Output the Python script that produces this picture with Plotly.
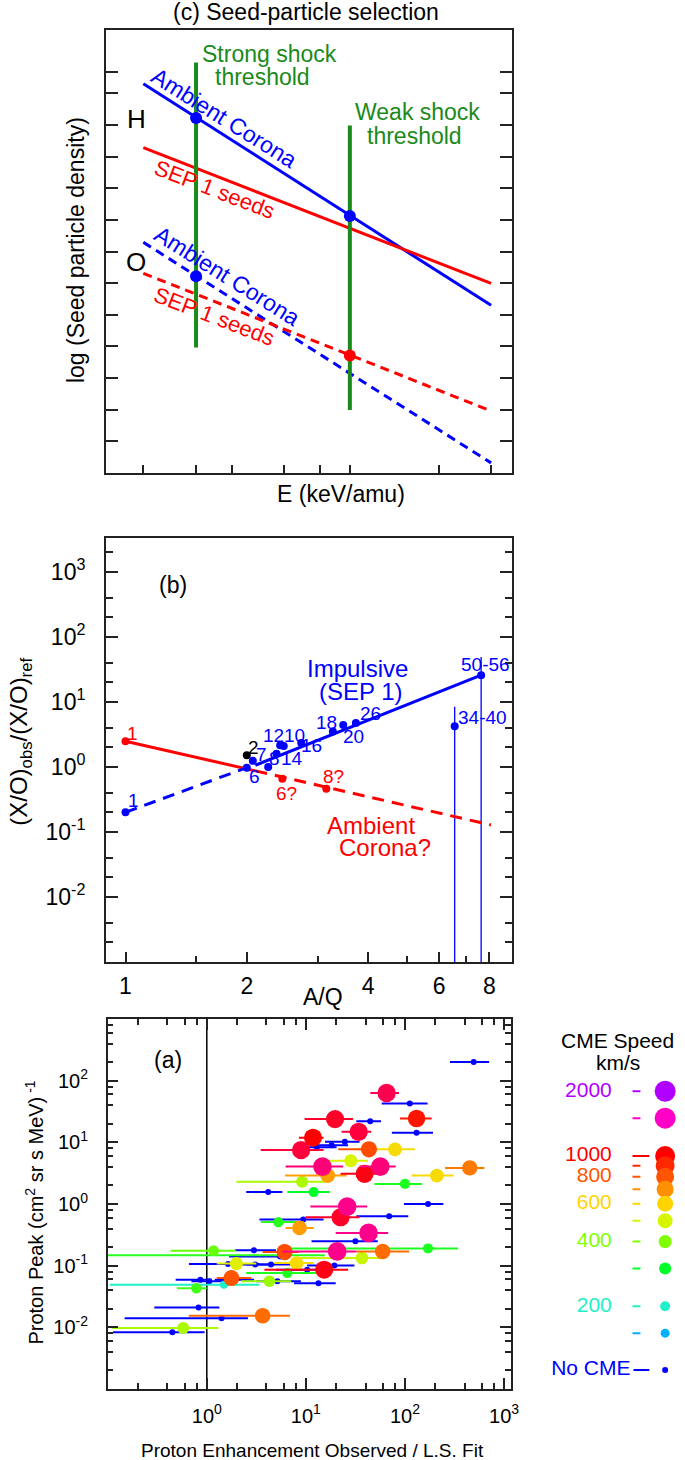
import plotly.graph_objects as go

W, H = 685, 1460
FONT = "Liberation Sans, Arial, Helvetica, sans-serif"
BLUE = "#0000ff"
RED = "#ff0000"
GREEN = "#1a8a1a"
BLACK = "#000000"
AXC = "#222222"

# ---------------- Panel (c) data: schematic seed-particle spectra ----------------
c_E_ends = [1.0, 48.3]
c_H_ambient = [12.30, 5.30]
c_H_sep1 = [10.28, 5.99]
c_O_ambient = [7.29, 0.32]
c_O_sep1 = [6.31, 1.96]
c_E_strong = 1.8
c_E_weak = 10.0
c_strong_span = [3.97, 12.97]
c_weak_span = [1.99, 10.98]
c_blue_dot_E = [1.8, 10.0, 1.8]
c_blue_dot_val = [11.22, 8.12, 6.22]
c_red_dot_E = [10.0]
c_red_dot_val = [3.71]
c_xticks = [1, 1.8, 2.7, 4.8, 7.2, 10, 27, 48]
c_yticks = [1, 2, 3, 4, 5, 6, 7, 8, 9, 10, 11, 12, 12.68]

# ---------------- Panel (b) data: enhancement vs A/Q ----------------
b_red_solid_x = [1.0, 2.1]
b_red_solid_y = [2.48, 0.87]
b_red_dash_x = [2.1, 8.07]
b_red_dash_y = [0.87, 0.128]
b_blue_dash_x = [1.0, 2.02]
b_blue_dash_y = [0.20, 1.0]
b_blue_solid_x = [2.1, 7.63]
b_blue_solid_y = [1.06, 25.7]
b_blue_labels = ["1", "6", "7", "8", "14", "12", "10", "16", "18", "20", "26", "34-40", "50-56"]
b_blue_aq = [1.0, 2.0, 2.07, 2.26, 2.37, 2.42, 2.47, 2.73, 3.27, 3.47, 3.73, 6.56, 7.63]
b_blue_ratio = [0.20, 0.97, 1.24, 1.0, 1.6, 2.16, 2.1, 2.34, 3.5, 4.4, 4.75, 4.23, 25.7]
b_red_labels = ["1", "6?", "8?"]
b_red_aq = [1.0, 2.45, 3.15]
b_red_ratio = [2.48, 0.66, 0.46]
b_black_labels = ["2"]
b_black_aq = [2.0]
b_black_ratio = [1.51]
b_err_aq = [6.56, 7.63]
b_err_lo = [1e-3, 1e-3]
b_err_hi = [8.4, 49.0]

# ---------------- Panel (a) data: proton peak vs enhancement ----------------
# enhancement (x), proton peak (y), x error low / high, CME speed (0 = no CME)
a_enh = [494, 65.3, 112, 19.7, 131, 44.6, 34.1, 131, 11.8, 24.7, 18.2, 12.9, 8.95, 43.3,
         79.4, 28.4, 14.7, 56.4, 451, 16.6, 39.1, 210, 9.16, 100, 4.17, 12.0, 171, 26.1,
         22.4, 69.3, 9.4, 5.28, 8.63, 42.9, 31.6, 20.7, 59.6, 171, 6.2, 6.1, 2.99, 5.5,
         36.8, 8.04, 3.08, 4.44, 19.4, 15.3, 10.3, 6.5, 4.28, 5.16, 13.4, 1.17, 1.64,
         1.99, 1.77, 0.86, 1.06, 1.95, 1.49, 0.785, 0.826, 1.41, 3.66, 0.577, 0.449]
a_peak = [200, 63.1, 42.7, 23.8, 24.4, 22.0, 14.8, 14.3, 11.9, 10.2, 9.0, 8.3, 7.5, 7.7,
          7.7, 5.05, 4.04, 4.04, 3.85, 2.89, 3.08, 2.89, 2.29, 2.12, 1.56, 1.56, 1.0, 0.91,
          0.61, 0.63, 0.56, 0.51, 0.41, 0.34, 0.25, 0.17, 0.17, 0.19, 0.148, 0.166, 0.177,
          0.141, 0.133, 0.11, 0.104, 0.104, 0.101, 0.086, 0.086, 0.076, 0.056, 0.056, 0.052,
          0.175, 0.106, 0.108, 0.063, 0.059, 0.056, 0.059, 0.049, 0.043, 0.021, 0.0141,
          0.0154, 0.00975, 0.0083]
a_xlo = [285, 44.7, 58.2, 9.7, 89, 32.3, 22.9, 73.8, 8.5, 15.6, 11.5, 8.0, 3.5, 21.2,
         32.3, 16.9, 6.25, 34.8, 254, 6.17, 22.4, 117, 1.99, 49.2, 2.5, 6.5, 97.7, 11.1,
         9.9, 32.3, 3.4, 3.52, 6.25, 20.0, 11.4, 5.8, 32.3, 5.6, 0.05, 3.66, 1.92, 1.68,
         7.9, 4.79, 1.9, 2.5, 10.3, 3.81, 5.0, 2.5, 2.24, 3.16, 7.6, 0.43, 0.66, 1.26,
         1.26, 0.485, 0.7, 1.2, 0.105, 0.5, 0.295, 0.148, 0.658, 0.109, 0.113]
a_xhi = [708, 87.1, 169, 30.0, 186, 57.3, 45.7, 192, 15.1, 34.8, 26.7, 20.4, 15.1, 51.0,
         126, 42.3, 23.8, 80.7, 635, 25.7, 55.0, 309, 16.9, 149, 5.8, 17.5, 244, 41.6,
         34.8, 108, 15.1, 9.5, 12.0, 67.8, 53.1, 32.3, 110, 344, 15.5, 8.5, 4.98, 5.8,
         56.2, 12.0, 4.8, 7.0, 30.9, 26.7, 17.0, 12.6, 7.1, 8.9, 20.0, 1.98, 3.39, 3.16,
         2.82, 1.12, 1.6, 3.0, 3.4, 1.0, 1.34, 2.6, 6.9, 1.31, 0.95]
a_speed = [0, 1200, 0, 1100, 950, 0, 1150, 0, 1000, 0, 0, 0, 1150, 820,
           580, 500, 1300, 1300, 740, 680, 1050, 580, 450, 320, 0, 300, 0, 1350,
           1100, 0, 0, 330, 680, 1350, 0, 1350, 760, 320, 330, 820, 0, 0,
           480, 580, 0, 0, 0, 1050, 0, 320, 430, 0, 0, 380, 0,
           520, 800, 0, 0, 0, 200, 350, 0, 0, 760, 450, 0]

# ---------------- CME speed legend ----------------
legend_speeds = [2000, 1500, 1000, 900, 800, 700, 600, 500, 400, 300, 200, 150]
legend_labels = ["2000", "", "1000", "", "800", "", "600", "", "400", "", "200", ""]
legend_nocme_row = 101

# speed -> colour / size scale (style)
speed_anchor = [150, 200, 300, 400, 500, 600, 700, 800, 900, 1000, 1500, 2000]
color_anchor = [(0, 176, 255), (32, 240, 200), (0, 255, 40), (128, 255, 0), (216, 245, 0),
                (255, 212, 0), (255, 145, 0), (255, 85, 0), (255, 40, 0), (255, 0, 0),
                (255, 0, 200), (176, 0, 255)]
size_anchor = [9, 10, 12, 13, 15, 16, 17, 18, 19, 20, 21, 21]


def interp(s, vals):
    if s <= speed_anchor[0]:
        return vals[0]
    for i in range(len(speed_anchor) - 1):
        a, b = speed_anchor[i], speed_anchor[i + 1]
        if a <= s <= b:
            t = (s - a) / (b - a)
            va, vb = vals[i], vals[i + 1]
            if isinstance(va, tuple):
                return tuple(va[k] + t * (vb[k] - va[k]) for k in range(3))
            return va + t * (vb - va)
    return vals[-1]


def speed_color(s):
    if s <= 0:
        return BLUE
    c = interp(s, color_anchor)
    return "rgb(%d,%d,%d)" % tuple(int(round(v)) for v in c)


def speed_size(s, legend=False):
    if s <= 0:
        return 6
    v = interp(s, size_anchor)
    return v if legend else v - 2


fig = go.Figure()

# ---------------- Panel (c) traces ----------------
for yv, col, dash in [(c_H_ambient, BLUE, "solid"), (c_H_sep1, RED, "solid"),
                      (c_O_ambient, BLUE, "9px,6px"), (c_O_sep1, RED, "9px,6px")]:
    fig.add_trace(go.Scatter(x=c_E_ends, y=yv, mode="lines", xaxis="x", yaxis="y",
                             line=dict(color=col, width=3, dash=dash), showlegend=False))
fig.add_trace(go.Scatter(x=[c_E_strong, c_E_strong], y=c_strong_span, mode="lines",
                         xaxis="x", yaxis="y", line=dict(color=GREEN, width=4), showlegend=False))
fig.add_trace(go.Scatter(x=[c_E_weak, c_E_weak], y=c_weak_span, mode="lines",
                         xaxis="x", yaxis="y", line=dict(color=GREEN, width=4), showlegend=False))
fig.add_trace(go.Scatter(x=c_blue_dot_E, y=c_blue_dot_val, mode="markers", xaxis="x", yaxis="y",
                         marker=dict(color=BLUE, size=12, opacity=1), showlegend=False))
fig.add_trace(go.Scatter(x=c_red_dot_E, y=c_red_dot_val, mode="markers", xaxis="x", yaxis="y",
                         marker=dict(color=RED, size=12, opacity=1), showlegend=False))

# ---------------- Panel (b) traces ----------------
fig.add_trace(go.Scatter(x=b_err_aq[:1] * 2, y=[b_err_lo[0], b_err_hi[0]], mode="lines",
                         xaxis="x2", yaxis="y2", line=dict(color=BLUE, width=1.3), showlegend=False))
fig.add_trace(go.Scatter(x=b_err_aq[1:] * 2, y=[b_err_lo[1], b_err_hi[1]], mode="lines",
                         xaxis="x2", yaxis="y2", line=dict(color=BLUE, width=1.3), showlegend=False))
for xv, yv, col, dash in [(b_red_solid_x, b_red_solid_y, RED, "solid"),
                          (b_red_dash_x, b_red_dash_y, RED, "12px,8px"),
                          (b_blue_dash_x, b_blue_dash_y, BLUE, "12px,8px"),
                          (b_blue_solid_x, b_blue_solid_y, BLUE, "solid")]:
    fig.add_trace(go.Scatter(x=xv, y=yv, mode="lines", xaxis="x2", yaxis="y2",
                             line=dict(color=col, width=3, dash=dash), showlegend=False))
fig.add_trace(go.Scatter(x=b_red_aq, y=b_red_ratio, mode="markers", xaxis="x2", yaxis="y2",
                         marker=dict(color=RED, size=8, opacity=1), showlegend=False))
fig.add_trace(go.Scatter(x=b_blue_aq, y=b_blue_ratio, mode="markers", xaxis="x2", yaxis="y2",
                         marker=dict(color=BLUE, size=8, opacity=1), showlegend=False))
fig.add_trace(go.Scatter(x=b_black_aq, y=b_black_ratio, mode="markers", xaxis="x2", yaxis="y2",
                         marker=dict(color=BLACK, size=8, opacity=1), showlegend=False))

# ---------------- Panel (a) traces ----------------
fig.add_trace(go.Scatter(x=[1, 1], y=[1e-3, 1e3], mode="lines", xaxis="x3", yaxis="y3",
                         line=dict(color=BLACK, width=1.5), showlegend=False))
groups = {}
for i, s in enumerate(a_speed):
    groups.setdefault(s, []).append(i)
order = ([0] if 0 in groups else []) + sorted(s for s in groups if s != 0)
for s in order:
    idx = groups[s]
    xs = [a_enh[i] for i in idx]
    ys = [a_peak[i] for i in idx]
    plus = [a_xhi[i] - a_enh[i] for i in idx]
    minus = [a_enh[i] - a_xlo[i] for i in idx]
    col = speed_color(s)
    fig.add_trace(go.Scatter(x=xs, y=ys, mode="markers", xaxis="x3", yaxis="y3",
                             marker=dict(color=col, size=speed_size(s), opacity=1, line=dict(width=0)),
                             error_x=dict(type="data", array=plus, arrayminus=minus, symmetric=False,
                                          color=col, thickness=2, width=0),
                             showlegend=False))

# ---------------- Legend (own hidden axes, log speed scale) ----------------
for s in legend_speeds:
    x1 = 657 if s == 1000 else 648
    fig.add_trace(go.Scatter(x=[640, x1], y=[s, s], mode="lines", xaxis="x4", yaxis="y4",
                             line=dict(color=speed_color(s), width=2), showlegend=False))
fig.add_trace(go.Scatter(x=[641, 657], y=[legend_nocme_row] * 2, mode="lines", xaxis="x4", yaxis="y4",
                         line=dict(color=BLUE, width=2), showlegend=False))
fig.add_trace(go.Scatter(x=[673] * (len(legend_speeds) + 1), y=legend_speeds + [legend_nocme_row],
                         mode="markers", xaxis="x4", yaxis="y4",
                         marker=dict(color=[speed_color(s) for s in legend_speeds] + [BLUE],
                                     size=[speed_size(s, True) for s in legend_speeds] + [6],
                                     opacity=1, line=dict(width=0)),
                         showlegend=False))
lab_s = [s for s, l in zip(legend_speeds, legend_labels) if l]
lab_t = [l for l in legend_labels if l]
fig.add_trace(go.Scatter(x=[619] * len(lab_s), y=lab_s, mode="text", text=lab_t, xaxis="x4", yaxis="y4",
                         textposition="middle left",
                         textfont=dict(family=FONT, size=21, color=[speed_color(s) for s in lab_s]),
                         showlegend=False))
fig.add_trace(go.Scatter(x=[638], y=[legend_nocme_row], mode="text", text=["No CME"], xaxis="x4", yaxis="y4",
                         textposition="middle left", textfont=dict(family=FONT, size=21, color=BLUE),
                         showlegend=False))

# ---------------- Annotations (text) ----------------
annotations = []


def add_text(text, xp, yp, size, color=BLACK, angle=0, xanchor="center", yanchor="middle"):
    annotations.append(dict(text=text, x=xp / W, y=1 - yp / H, xref="paper", yref="paper",
                            showarrow=False, textangle=angle, xanchor=xanchor, yanchor=yanchor,
                            borderpad=0, font=dict(family=FONT, size=size, color=color)))


# panel (c)
add_text("(c) Seed-particle selection", 310, 12, 23)
add_text("log (Seed particle density)", 77, 250, 23, angle=-90)
add_text("E (keV/amu)", 345, 494, 23)
add_text("Strong shock", 273, 54, 23, GREEN)
add_text("threshold", 266, 77, 23, GREEN)
add_text("Weak shock", 422, 112, 23, GREEN)
add_text("threshold", 419, 136, 23, GREEN)
add_text("H", 138, 119, 26)
add_text("O", 138, 262, 26)
add_text("Ambient Corona", 227, 118, 23, BLUE, angle=32)
add_text("SEP 1 seeds", 217, 190, 22, RED, angle=21)
add_text("Ambient Corona", 230, 276, 23, BLUE, angle=32)
add_text("SEP 1 seeds", 217, 316, 22, RED, angle=21)

# panel (b)
add_text("(b)", 175, 585, 23)
add_text("A/Q", 327, 997, 23)
add_text("(X/O)<sub>obs</sub>/(X/O)<sub>ref</sub>", 20, 742, 24, angle=-90)
add_text("Impulsive", 362, 668, 24, BLUE)
add_text("(SEP 1)", 365, 691, 24, BLUE)
add_text("Ambient", 375, 825, 24, RED)
add_text("Corona?", 390, 847, 24, RED)
b_label_px = {"1": (135, 800), "6": (258, 777), "7": (265, 754), "8": (278, 758), "14": (295, 759),
              "12": (277, 735), "10": (298, 735), "16": (315, 746), "18": (330, 722), "20": (358, 736),
              "26": (375, 713), "34-40": (488, 717), "50-56": (491, 664)}
for lab in b_blue_labels:
    xp, yp = b_label_px[lab]
    add_text(lab, xp, yp, 19, BLUE)
for lab, (xp, yp) in zip(b_red_labels, [(134, 733), (290, 793), (337, 776)]):
    add_text(lab, xp, yp, 19, RED)
add_text(b_black_labels[0], 256, 747, 19, BLACK)

# panel (a)
add_text("(a)", 170, 1060, 23)
add_text("Proton Peak (cm<sup>2</sup> sr s MeV)<sup> -1</sup>", 34, 1213, 20, angle=-90)
add_text("Proton Enhancement Observed / L.S. Fit", 316, 1450, 19)
add_text("CME Speed", 625, 1040, 21)
add_text("km/s", 625, 1062, 21)


def sup(e):
    return "10<sup>%d</sup>" % e


common_axis = dict(showline=True, linecolor=AXC, linewidth=1.5, showgrid=False, zeroline=False,
                   ticks="inside", tickcolor=AXC, tickwidth=1.5,
                   tickfont=dict(family=FONT, size=23, color=BLACK))


def dec_minor(lo, hi, mults):
    out = []
    for e in range(lo, hi + 1):
        for m in mults:
            out.append(m * 10 ** e)
    return out


layout_axes = dict(
    xaxis=dict(common_axis, type="log", range=[-0.182, 1.785], domain=[107 / W, 518 / W], anchor="y",
               tickvals=c_xticks, showticklabels=False, ticklen=8, mirror=True),
    yaxis=dict(common_axis, range=[0, 14], domain=[1 - 473 / H, 1 - 30 / H], anchor="x",
               tickvals=c_yticks, showticklabels=False, ticklen=12, mirror="allticks"),
    xaxis2=dict(common_axis, type="log", range=[-0.049, 0.959], domain=[107 / W, 518 / W], anchor="y2",
                tickvals=[1, 2, 4, 6, 8], ticktext=["1", "2", "4", "6", "8"], ticklen=10, mirror=True,
                ticklabelstandoff=3,
                minor=dict(tickvals=[1.5, 3, 5, 7], ticklen=6, ticks="inside", tickcolor=AXC, tickwidth=1.5)),
    yaxis2=dict(common_axis, type="log", range=[-3, 3.52], domain=[1 - 962 / H, 1 - 538 / H], anchor="x2",
                tickvals=[10 ** e for e in range(-2, 4)], ticktext=[sup(e) for e in range(-2, 4)],
                ticklen=12, mirror="allticks", ticklabelstandoff=14,
                minor=dict(tickvals=dec_minor(-3, 3, [2, 4]), ticklen=7, ticks="inside",
                           tickcolor=AXC, tickwidth=1.5)),
    xaxis3=dict(common_axis, type="log", range=[-1, 3.07], domain=[109 / W, 517 / W], anchor="y3",
                tickvals=[1, 10, 100, 1000], ticktext=[sup(e) for e in range(0, 4)], ticklen=11,
                mirror="allticks", ticklabelstandoff=8, tickfont=dict(family=FONT, size=20, color=BLACK),
                minor=dict(tickvals=dec_minor(-1, 2, [2, 4, 6, 8]), ticklen=6, ticks="inside",
                           tickcolor=AXC, tickwidth=1.5)),
    yaxis3=dict(common_axis, type="log", range=[-3, 3], domain=[1 - 1389 / H, 1 - 1019 / H], anchor="x3",
                tickvals=[10 ** e for e in range(-2, 3)], ticktext=[sup(e) for e in range(-2, 3)],
                ticklen=11, mirror="allticks", ticklabelstandoff=14,
                tickfont=dict(family=FONT, size=20, color=BLACK),
                minor=dict(tickvals=dec_minor(-3, 2, [2, 4, 6, 8]), ticklen=6, ticks="inside",
                           tickcolor=AXC, tickwidth=1.5)),
    xaxis4=dict(range=[540, 685], domain=[540 / W, 1.0], anchor="y4", visible=False),
    yaxis4=dict(type="log", range=[1.9116, 3.4], domain=[1 - 1390 / H, 1 - 1070 / H], anchor="x4",
                visible=False),
)

fig.update_layout(width=W, height=H, margin=dict(l=0, r=0, t=0, b=0),
                  paper_bgcolor="white", plot_bgcolor="white",
                  font=dict(family=FONT, color=BLACK), annotations=annotations, **layout_axes)

fig.write_html("out.html", config={"displayModeBar": False},
               post_script="document.body.style.margin='0';")
